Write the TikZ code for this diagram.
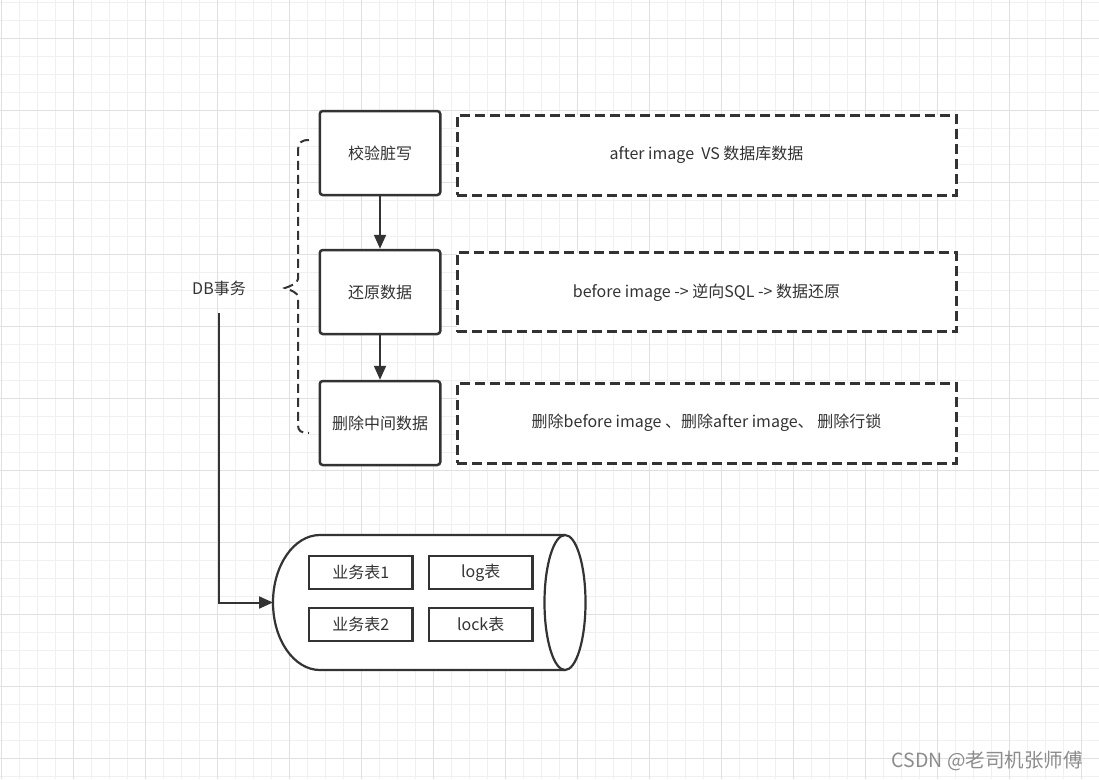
\documentclass[tikz,border=0pt]{standalone}
\usepackage{fontspec}
\setmainfont{Noto Sans CJK SC}
\usetikzlibrary{arrows.meta}
\definecolor{ln}{HTML}{333333}
\definecolor{gminor}{HTML}{F0F0F0}
\definecolor{gmajor}{HTML}{E0E0E0}
\definecolor{wm}{HTML}{8C8C8C}
\tikzset{
  txt/.style={text=ln,font=\fontsize{16}{19}\selectfont},
  mainbox/.style={txt,draw=ln,fill=white,line width=2.5pt,rounded corners=3pt,minimum width=120.5pt,minimum height=84pt,inner sep=0pt},
  dashbox/.style={txt,draw=ln,fill=white,line width=3pt,dash pattern=on 10pt off 5pt,minimum width=499pt,minimum height=80pt,inner sep=0pt},
  tblbox/.style={txt,draw=ln,fill=white,line width=2.3pt,minimum width=103.5pt,minimum height=33.3pt,inner sep=0pt},
  arr/.style={draw=ln,line width=2pt,-{Triangle[length=14pt,width=12pt]}},
  minorline/.style={draw=gminor,line width=1pt},
  majorline/.style={draw=gmajor,line width=1pt},
}
\begin{document}
\begin{tikzpicture}[x=1pt,y=-1pt]
\useasboundingbox (0,0) rectangle (1099,779);
\fill[white] (0,0) rectangle (1099,779);
% grid
\foreach \i in {0,...,61} {\draw[minorline] ({1+18*\i},0) -- ({1+18*\i},779);}
\foreach \j in {0,...,43} {\draw[minorline] (0,{2.5+18*\j}) -- (1099,{2.5+18*\j});}
\foreach \i in {0,...,15} {\draw[majorline] ({1+72*\i},0) -- ({1+72*\i},779);}
\foreach \j in {0,...,10} {\draw[majorline] (0,{38.5+72*\j}) -- (1099,{38.5+72*\j});}

% main steps
\node[mainbox] (b1) at (380,153) {校验脏写};
\node[mainbox] (b2) at (380,292) {还原数据};
\node[mainbox] (b3) at (380,423) {删除中间数据};
\draw[arr] (b1) -- (b2);
\draw[arr] (b2) -- (b3);

% dashed descriptions
\node[dashbox] (d1) at (706.5,155) {after image\ \ VS 数据库数据};
\node[dashbox,minimum height=79.3pt] (d2) at (706.5,292.3) {before image -> 逆向SQL -> 数据还原};
\node[dashbox] (d3) at (706.5,423) {删除before image 、删除after image、 删除行锁};

% brace
\draw[draw=ln,line width=2pt,dash pattern=on 9pt off 5pt]
  (309,140) .. controls (301,140) and (298,143) .. (298,150) -- (298,279)
  .. controls (298,283) and (291,286) .. (285,288)
  .. controls (291,290) and (298,293) .. (298,297) -- (298,425)
  .. controls (298,431) and (301,433) .. (309,433);

% DB transaction label
\node[txt] (db) at (219,288) {DB事务};
\coordinate (dbs) at (219,313);

% cylinder
\draw[draw=ln,fill=white,line width=2.2pt]
  (565,535) -- (320,535) .. controls (294.04,535) and (273,565.22) .. (273,602.5)
  .. controls (273,639.78) and (294.04,670) .. (320,670) -- (565,670);
\draw[draw=ln,fill=white,line width=2.2pt] (565,602.5) ellipse [x radius=20.5, y radius=67.5];
\coordinate (cylw) at (273,602.5);
\draw[arr] (dbs) |- (cylw);

\node[tblbox] (t1) at (360.7,572.3) {业务表1};
\node[tblbox] (t2) at (480.7,572.3) {log表};
\node[tblbox] (t3) at (360.7,624.3) {业务表2};
\node[tblbox] (t4) at (480.7,624.3) {lock表};

% watermark
\node[anchor=east,text=wm,font=\fontsize{19.5}{23}\selectfont,inner sep=0pt] (wmk) at (1083,761) {CSDN @老司机张师傅};
\end{tikzpicture}
\end{document}
